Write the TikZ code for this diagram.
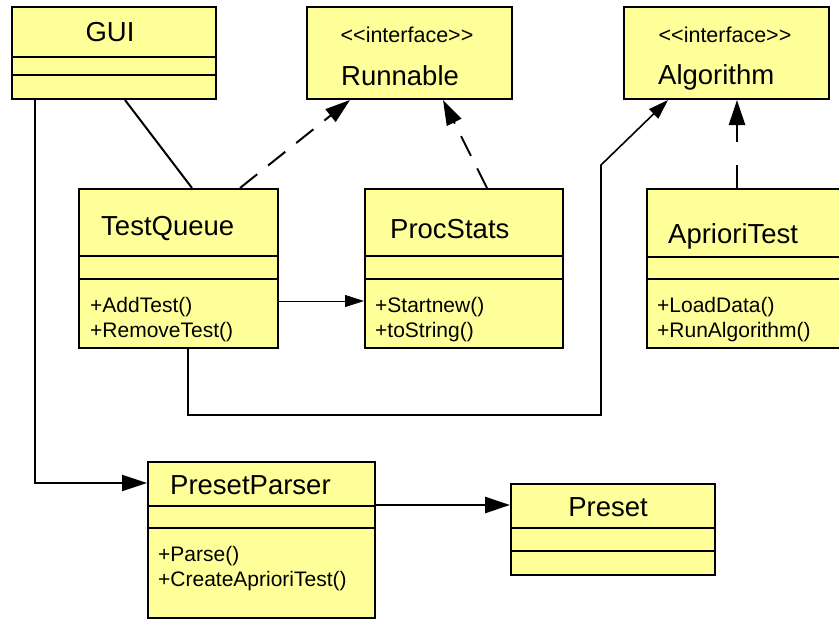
\documentclass[tikz,border=0pt]{standalone}
\usepackage{fontspec}
\setmainfont{Liberation Sans}
\usetikzlibrary{arrows.meta,calc}
\definecolor{classfill}{RGB}{255,255,153}
\tikzset{
  classbox/.style={draw=black, line width=2pt, fill=classfill, inner sep=0pt, anchor=north west},
  divider/.style={line width=1.6pt},
  titletext/.style={font=\fontsize{27.5}{32}\selectfont, inner sep=0pt},
  stereotext/.style={font=\fontsize{21.5}{25}\selectfont, inner sep=0pt, anchor=base},
  methodtext/.style={font=\fontsize{21}{25}\selectfont, inner sep=0pt, anchor=base west},
  assoc/.style={line width=2pt},
  bigtip/.style={-{Triangle[length=25pt,width=16pt]}},
  smalltip/.style={-{Triangle[length=20pt,width=13pt]}},
  realize/.style={line width=2pt, dash pattern=on 22pt off 14pt, bigtip},
}
% horizontal compartment lines of a class box, at the given depths below its top
\newcommand\umldividers[3]{%
  \draw[divider] ($(#1.north west)+(0,#2)$) -- ($(#1.north east)+(0,#2)$);
  \draw[divider] ($(#1.north west)+(0,#3)$) -- ($(#1.north east)+(0,#3)$);
}
% stereotype label, kerns keep the angle brackets from merging into guillemets
\newcommand\stereotype[1]{<\kern0pt<#1>\kern0pt>}
\begin{document}
\begin{tikzpicture}[x=1pt,y=-1pt]
\clip (0,0) rectangle (839,619);

% class boxes
\node[classbox, minimum width=204pt, minimum height=92pt] (gui) at (11,6) {};
\node[classbox, minimum width=205pt, minimum height=92pt] (run) at (306,6) {};
\node[classbox, minimum width=205pt, minimum height=92pt] (alg) at (623,6) {};
\node[classbox, minimum width=199pt, minimum height=159pt] (tq) at (78,188) {};
\node[classbox, minimum width=198pt, minimum height=159pt] (ps) at (364,188) {};
\node[classbox, minimum width=210pt, minimum height=159pt] (ap) at (646,188) {};
\node[classbox, minimum width=227pt, minimum height=156pt] (pp) at (147,461) {};
\node[classbox, minimum width=204pt, minimum height=91pt] (pr) at (510,483) {};

\umldividers{gui}{51}{69}
\umldividers{tq}{68}{91}
\umldividers{ps}{68}{91}
\umldividers{ap}{69}{91}
\umldividers{pp}{45}{67}
\umldividers{pr}{45}{68}

% class names and stereotypes
\node[titletext, anchor=base] (gui-name) at (110,41) {GUI};
\node[stereotext] (run-st) at (407,42) {\stereotype{interface}};
\node[titletext, anchor=base west] (run-name) at (341,85) {Runnable};
\node[stereotext] (alg-st) at (725,42) {\stereotype{interface}};
\node[titletext, anchor=base west] (alg-name) at (658,84) {Algorithm};
\node[titletext, anchor=base west] (tq-name) at (101,235) {TestQueue};
\node[titletext, anchor=base west] (ps-name) at (390,238) {ProcStats};
\node[titletext, anchor=base west] (ap-name) at (668,243) {AprioriTest};
\node[titletext, anchor=base west] (pp-name) at (170,494) {PresetParser};
\node[titletext, anchor=base] (pr-name) at (608,516) {Preset};

% operations
\node[methodtext] (tq-m1) at (90,312) {+AddTest()};
\node[methodtext] (tq-m2) at (90,337) {+RemoveTest()};
\node[methodtext] (ps-m1) at (375,312) {+Startnew()};
\node[methodtext] (ps-m2) at (375,337) {+toString()};
\node[methodtext] (ap-m1) at (657,312) {+LoadData()};
\node[methodtext] (ap-m2) at (657,337) {+RunAlgorithm()};
\node[methodtext] (pp-m1) at (158,561) {+Parse()};
\node[methodtext] (pp-m2) at (158,586) {+CreateAprioriTest()};

% relations
\draw[assoc, bigtip] ($(gui.south west)+(24,0)$) |- ($(pp.north west)+(0,22)$);
\draw[assoc] ($(gui.south west)+(114,0)$) -- ($(tq.north west)+(114,0)$);
\draw[realize] ($(tq.north west)+(162,0)$) -- ($(run.south west)+(44,0)$);
\draw[realize] ($(ps.north west)+(123,0)$) -- ($(run.south west)+(137,0)$);
\draw[line width=1pt, -{Triangle[length=19pt,width=12pt]}]
  ($(tq.north east)+(0,113)$) -- ($(ps.north west)+(0,113)$);
\coordinate (tqalg1) at (601,415);
\coordinate (tqalg2) at (601,165);
\draw[line width=1.6pt, smalltip]
  ($(tq.south west)+(110,0)$) |- (tqalg1) -- (tqalg2) -- ($(alg.south west)+(45,0)$);
\draw[line width=2.6pt, dash pattern=on 23pt off 23pt, bigtip]
  ($(ap.north west)+(91,0)$) -- ($(alg.south west)+(114,0)$);
\draw[line width=2.6pt, bigtip] ($(pp.north east)+(0,44)$) -- ($(pr.north west)+(0,22)$);
\end{tikzpicture}
\end{document}
